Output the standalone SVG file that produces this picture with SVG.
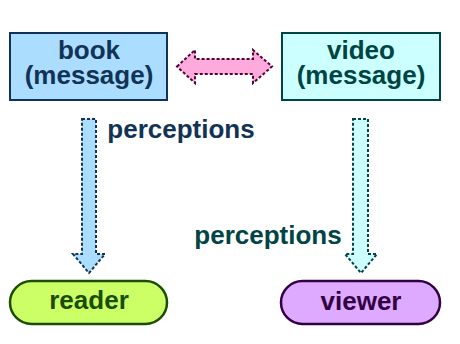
<svg xmlns="http://www.w3.org/2000/svg" width="460" height="344" viewBox="0 0 460 344">
<style>
text{font-family:"Liberation Sans",Arial,sans-serif;font-weight:bold;font-size:26px;text-anchor:middle}
.dot{stroke-width:2;stroke-dasharray:3,2}
</style>
<rect width="460" height="344" fill="#ffffff"/>
<g id="connectors">
<g id="link-book-video">
<path class="dot" d="M177,66.5 L195,50 L195,59 L253,59 L253,50 L272,66.5 L253,83 L253,74 L195,74 L195,83 Z" fill="#ffaadd" stroke="#550033"/>
</g>
<g id="book-reader">
<path class="dot" d="M82,119 L96,119 L96,254 L105,254 L89,273 L73,254 L82,254 Z" fill="#aaddff" stroke="#113355"/>
<text x="181" y="138" fill="#113355" text-anchor="middle">perceptions</text>
</g>
<g id="video-viewer">
<path class="dot" d="M353,119 L368,119 L368,254 L377,254 L361,273 L345,254 L353,254 Z" fill="#ccffff" stroke="#004444"/>
<text x="268" y="244" fill="#004444">perceptions</text>
</g>
</g>
<g id="book">
<rect x="10" y="33" width="157" height="67" fill="#aaddff" stroke="#113355" stroke-width="2"/>
<text x="89" y="59" fill="#113355">book</text>
<text x="89" y="84" fill="#113355">(message)</text>
</g>
<g id="video">
<rect x="282" y="33" width="158" height="67" fill="#ccffff" stroke="#004444" stroke-width="2"/>
<text x="361" y="59" fill="#004444">video</text>
<text x="361" y="84" fill="#004444">(message)</text>
</g>
<g id="reader">
<rect x="10" y="281" width="157" height="43" rx="21.5" fill="#ccff66" stroke="#1a4d00" stroke-width="2.5"/>
<text x="89" y="309" fill="#1a4d00">reader</text>
</g>
<g id="viewer">
<rect x="281" y="281" width="159" height="43" rx="21.5" fill="#ddaaff" stroke="#330044" stroke-width="2.5"/>
<text x="361" y="310" fill="#330044">viewer</text>
</g>
</svg>
